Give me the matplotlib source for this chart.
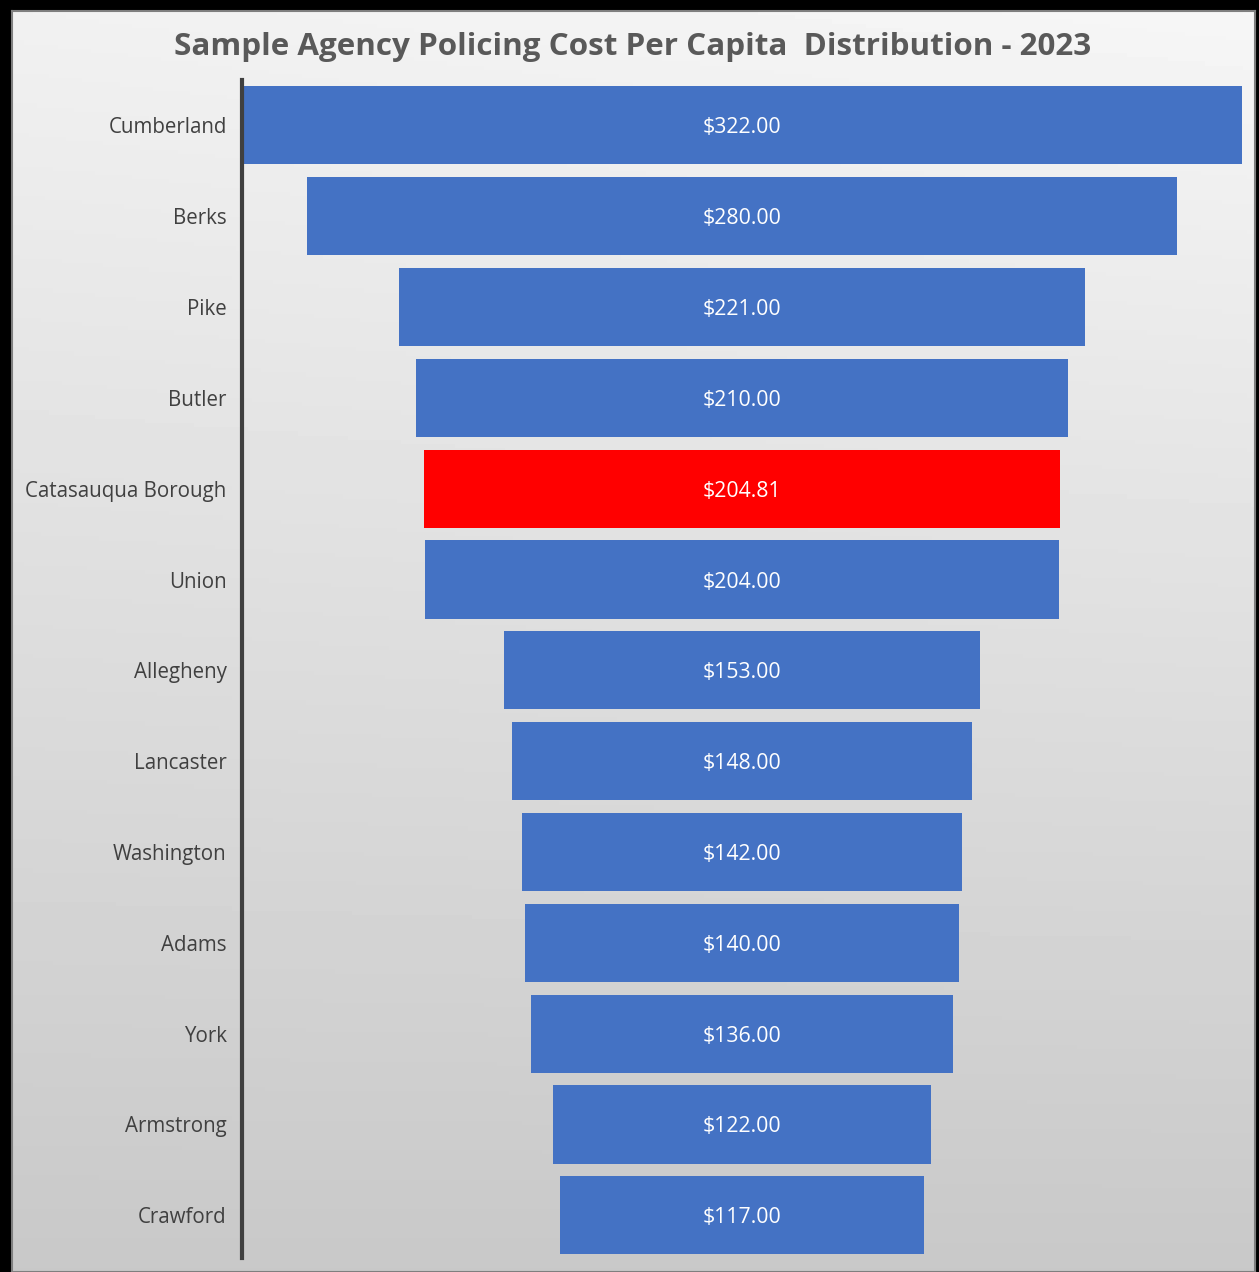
import numpy as np
import matplotlib.pyplot as plt
from matplotlib.ticker import FixedLocator

agencies = ["Cumberland", "Berks", "Pike", "Butler", "Catasauqua Borough", "Union",
            "Allegheny", "Lancaster", "Washington", "Adams", "York", "Armstrong", "Crawford"]
cost_per_capita = [322.00, 280.00, 221.00, 210.00, 204.81, 204.00,
                   153.00, 148.00, 142.00, 140.00, 136.00, 122.00, 117.00]
highlight = "Catasauqua Borough"

W, H = 1259, 1272
fig = plt.figure(figsize=(W / 100, H / 100), dpi=100)
fig.patch.set_facecolor("black")

# gradient panel inside the black frame
bg = fig.add_axes([12 / W, 0, (1255 - 12) / W, (H - 11) / H])
yy, xx = np.mgrid[0:1:300j, 0:1:300j]
shade = 0.965 - 0.18 * yy - 0.02 * (1 - xx) * (1 - yy)
bg.imshow(shade, cmap="gray", vmin=0, vmax=1, aspect="auto", extent=[0, 1, 0, 1], origin="upper")
bg.set_xticks([]); bg.set_yticks([])
for s in bg.spines.values():
    s.set_color("#7f7f7f"); s.set_linewidth(1.5)

font = ["Open Sans", "DejaVu Sans"]
fig.text(633 / W, 1 - 47 / H, "Sample Agency Policing Cost Per Capita  Distribution - 2023",
         ha="center", va="center", fontsize=22.6, fontweight="bold", color="#595959", family=font)

ax = fig.add_axes([242 / W, 1 - 1258 / H, (1242 - 242) / W, (1258 - 80) / H])
ax.patch.set_alpha(0)
y = np.arange(len(agencies))
half = np.array(cost_per_capita) / 2
colors = ["#FF0000" if a == highlight else "#4472C4" for a in agencies]
ax.barh(y, cost_per_capita, left=-half, height=0.86, color=colors)
for yi, v in zip(y, cost_per_capita):
    ax.text(0, yi, f"${v:,.2f}", ha="center", va="center_baseline", color="white",
            fontsize=15.3, family=font)

ax.set_xlim(-161, 161)
ax.set_ylim(12.47, -0.5)
ax.yaxis.set_major_locator(FixedLocator(y))
ax.set_yticklabels(agencies, fontsize=14.8, color="#404040", family=font)
for lbl in ax.get_yticklabels():
    lbl.set_va("center_baseline")
ax.tick_params(axis="y", length=0, pad=11)
ax.set_xticks([])
for s in ["top", "right", "bottom"]:
    ax.spines[s].set_visible(False)
ax.spines["left"].set_color("#404040")
ax.spines["left"].set_linewidth(3)

fig.savefig("out.png", dpi=100, facecolor=fig.get_facecolor())
